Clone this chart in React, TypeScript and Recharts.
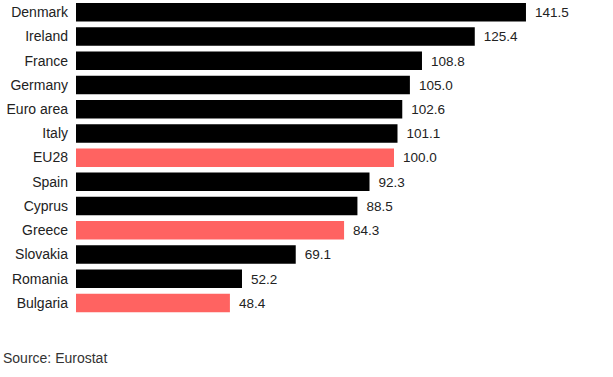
import React from "react";
import { BarChart, Bar, XAxis, YAxis, Cell, LabelList } from "recharts";

const countries = ["Denmark", "Ireland", "France", "Germany", "Euro area", "Italy", "EU28", "Spain", "Cyprus", "Greece", "Slovakia", "Romania", "Bulgaria"];
const values = [141.5, 125.4, 108.8, 105.0, 102.6, 101.1, 100.0, 92.3, 88.5, 84.3, 69.1, 52.2, 48.4];
const highlighted = ["EU28", "Greece", "Bulgaria"];

const data = countries.map((c, i) => ({ country: c, value: values[i] }));

const FONT = "'Liberation Sans', Arial, sans-serif";

export default function App() {
  return (
    <div style={{ position: "absolute", left: 0, top: 0, width: 613, height: 377, background: "#fff", fontFamily: FONT }}>
      <BarChart
        width={613}
        height={377}
        data={data}
        layout="vertical"
        margin={{ top: 0, right: 60, bottom: 62, left: 0 }}
      >
        <XAxis type="number" domain={[0, 150]} hide />
        <YAxis
          type="category"
          dataKey="country"
          width={76}
          axisLine={false}
          tickLine={false}
          tickSize={0}
          tickMargin={8}
          tick={{ fill: "#222", fontSize: 14, fontFamily: FONT }}
          interval={0}
        />
        <Bar dataKey="value" barSize={18.5} isAnimationActive={false}>
          {data.map((d) => (
            <Cell key={d.country} fill={highlighted.includes(d.country) ? "#ff6361" : "#000000"} />
          ))}
          <LabelList
            dataKey="value"
            position="right"
            offset={9}
            formatter={(v: number) => Number(v).toFixed(1)}
            style={{ fill: "#222", fontSize: 13.5, fontFamily: FONT }}
          />
        </Bar>
      </BarChart>
      <div style={{ position: "absolute", left: 3, top: 350, fontSize: 14, color: "#333", fontFamily: FONT }}>
        Source: Eurostat
      </div>
    </div>
  );
}
